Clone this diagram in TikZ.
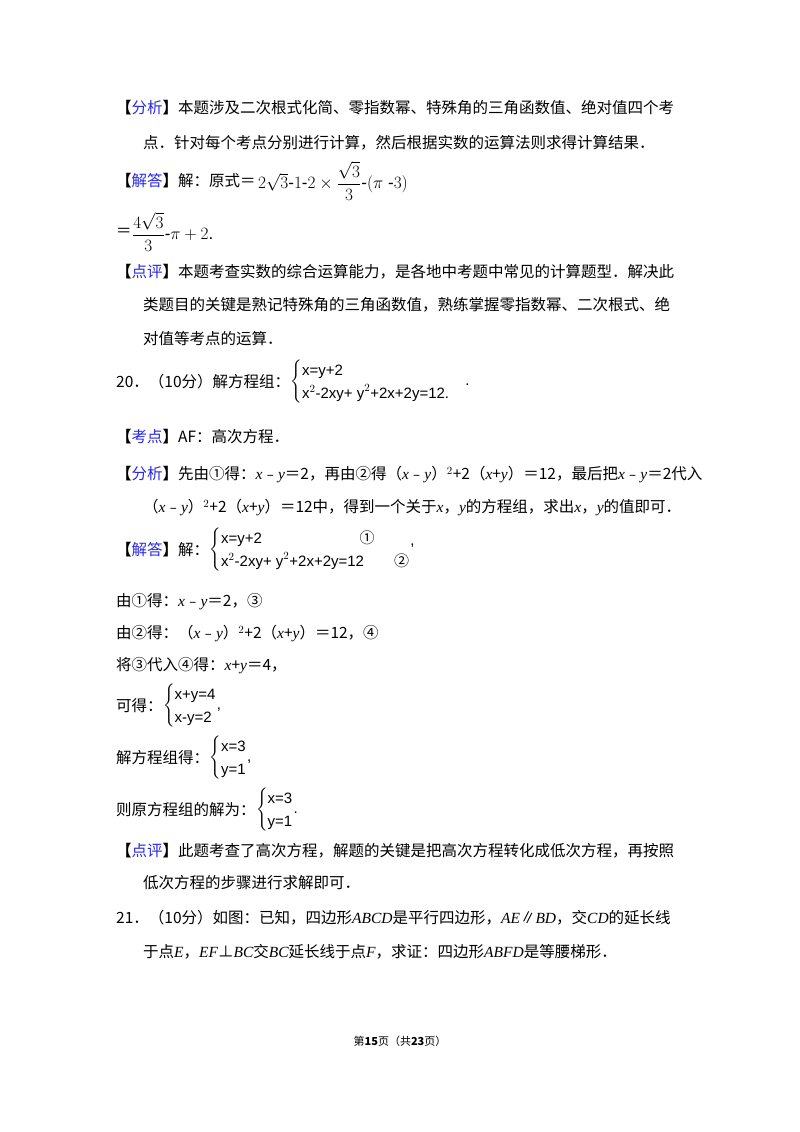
\documentclass[tikz,border=0pt]{standalone}
\usepackage{fontspec}
\setmainfont{Liberation Serif}
\newfontfamily\cjk{Noto Sans CJK SC}
\newfontfamily\fm{Liberation Sans}
\usepackage{amsmath}
\usetikzlibrary{positioning}
\definecolor{tagblue}{RGB}{40,40,230}
\newcommand{\hd}[1]{{\bfseries 【}{\color{tagblue}#1}{\bfseries 】}}
\newcommand{\vx}{{\rmfamily\itshape x}}
\newcommand{\vy}{{\rmfamily\itshape y}}
\newcommand{\pt}[1]{{\rmfamily\itshape #1}}
\renewcommand{\arraystretch}{1.35}
\tikzset{
  txt/.style={anchor=west,inner sep=0pt,font=\cjk\fontsize{15.5}{18}\selectfont},
  frm/.style={anchor=west,inner sep=0pt,font=\fm\fontsize{15}{17}\selectfont}
}
\begin{document}
\begin{tikzpicture}[x=1pt,y=-1pt]
    \useasboundingbox[fill=white] (0,0) rectangle (800,1132);
    % analysis of 19
    \node[txt] (a1) at (116,108) {\hd{分析}本题涉及二次根式化简、零指数幂、特殊角的三角函数值、绝对值四个考};
    \node[txt] (a2) at (143,143) {点．针对每个考点分别进行计算，然后根据实数的运算法则求得计算结果．};
    \node[txt] (s1) at (116,181) {\hd{解答}解：原式＝};
    \node[frm,font=\fm\fontsize{17}{19}\selectfont,right=2pt of s1] (s1f) {$2\sqrt{3}\text{-}1\text{-}2\times\dfrac{\sqrt{3}}{3}\text{-}(\pi\text{ -}3)$};
    \node[txt] (s2) at (116,232) {＝};
    \node[frm,font=\fm\fontsize{17}{19}\selectfont,right=0pt of s2] (s2f) {$\dfrac{4\sqrt{3}}{3}\text{-}\pi+2$.};
    \node[txt] (p1) at (116,272) {\hd{点评}本题考查实数的综合运算能力，是各地中考题中常见的计算题型．解决此};
    \node[txt] (p2) at (143,305) {类题目的关键是熟记特殊角的三角函数值，熟练掌握零指数幂、二次根式、绝};
    \node[txt] (p3) at (143,339) {对值等考点的运算．};
    % problem 20
    \node[txt] (q20) at (116,382) {20．（10分）解方程组：};
    \node[frm,right=0pt of q20] (q20f) {$\left\{\begin{array}{@{}l@{}}\text{x=y+2}\\ \text{x}^2\text{-2xy+ y}^2\text{+2x+2y=12.}\end{array}\right.$\quad .};
    \node[txt] (k1) at (116,437) {\hd{考点}AF：高次方程．};
    \node[txt] (f1) at (116,475) {\hd{分析}先由①得：\vx{}﹣\vy{}＝2，再由②得（\vx{}﹣\vy{}）$^2$+2（\vx{}+\vy{}）＝12，最后把\vx{}﹣\vy{}＝2代入};
    \node[txt] (f2) at (143,508) {（\vx{}﹣\vy{}）$^2$+2（\vx{}+\vy{}）＝12中，得到一个关于\vx{}，\vy{}的方程组，求出\vx{}，\vy{}的值即可．};
    \node[txt] (j1) at (116,550) {\hd{解答}解：};
    \node[frm,right=0pt of j1] (j1f) {$\left\{\begin{array}{@{}l@{}}\text{x=y+2}\hspace{6.5em}\text{\cjk ①}\\ \text{x}^2\text{-2xy+ y}^2\text{+2x+2y=12}\hspace{2em}\text{\cjk ②}\end{array}\right.$\raisebox{8pt}{,}};
    \node[txt] (j2) at (116,602) {由①得：\vx{}﹣\vy{}＝2，③};
    \node[txt] (j3) at (116,634) {由②得：（\vx{}﹣\vy{}）$^2$+2（\vx{}+\vy{}）＝12，④};
    \node[txt] (j4) at (116,666) {将③代入④得：\vx{}+\vy{}＝4，};
    \node[txt] (j5) at (116,706) {可得：};
    \node[frm,right=0pt of j5] (j5f) {$\left\{\begin{array}{@{}l@{}}\text{x+y=4}\\ \text{x-y=2}\end{array}\right.$,};
    \node[txt] (j6) at (116,758) {解方程组得：};
    \node[frm,right=0pt of j6] (j6f) {$\left\{\begin{array}{@{}l@{}}\text{x=3}\\ \text{y=1}\end{array}\right.$,};
    \node[txt] (j7) at (116,810) {则原方程组的解为：};
    \node[frm,right=0pt of j7] (j7f) {$\left\{\begin{array}{@{}l@{}}\text{x=3}\\ \text{y=1}\end{array}\right.$.};
    \node[txt] (d1) at (116,851) {\hd{点评}此题考查了高次方程，解题的关键是把高次方程转化成低次方程，再按照};
    \node[txt] (d2) at (143,883) {低次方程的步骤进行求解即可．};
    % problem 21
    \node[txt] (q21) at (116,918) {21．（10分）如图：已知，四边形\pt{ABCD}是平行四边形，\pt{AE}∥\pt{BD}，交\pt{CD}的延长线};
    \node[txt] (q21b) at (143,952) {于点\pt{E}，\pt{EF}⊥\pt{BC}交\pt{BC}延长线于点\pt{F}，求证：四边形\pt{ABFD}是等腰梯形．};
    % footer
    \node[inner sep=0pt,font=\cjk\fontsize{11}{12}\selectfont] (pg) at (400,1041) {第\textbf{15}页（共\textbf{23}页）};
\end{tikzpicture}
\end{document}
